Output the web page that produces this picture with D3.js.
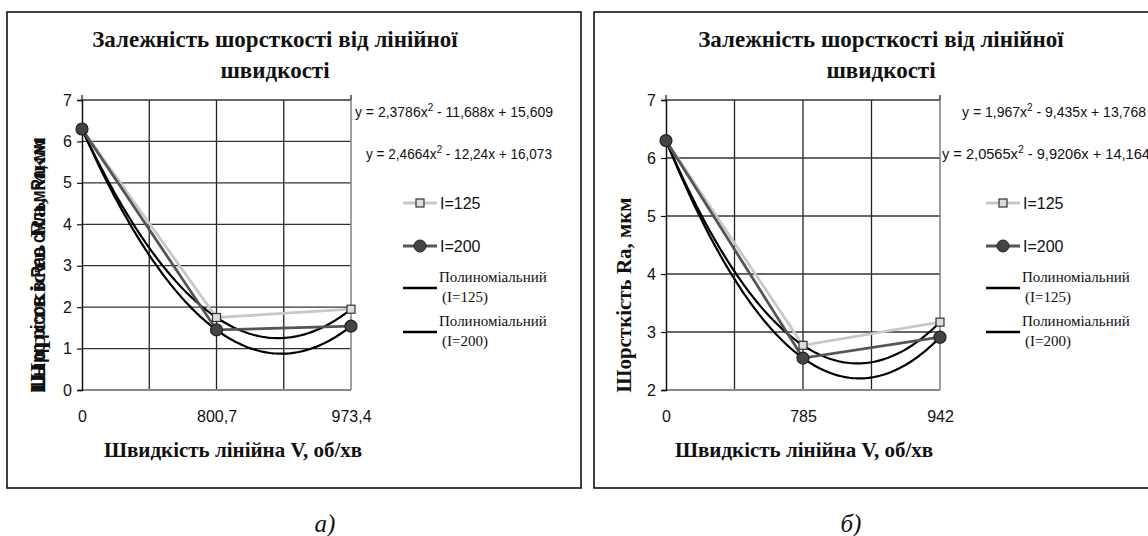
<!DOCTYPE html>
<html>
<head>
<meta charset="utf-8">
<script src="https://cdn.jsdelivr.net/npm/d3@7"></script>
<style>
  body { margin: 0; background: #fff; }
  svg { display: block; }
</style>
</head>
<body>
<script>
var w = 1148,
    h = 536;

// data
var categoriesA = ["0", "800,7", "973,4"];
var categoriesB = ["0", "785", "942"];
var ra125A = [6.3, 1.75, 1.95];
var ra200A = [6.3, 1.45, 1.54];
var ra125B = [6.3, 2.77, 3.17];
var ra200B = [6.3, 2.55, 2.91];
var yTicksA = [0, 1, 2, 3, 4, 5, 6, 7];
var yTicksB = [2, 3, 4, 5, 6, 7];
var equationsA = ["y = 2,3786x", "2", " - 11,688x + 15,609", "y = 2,4664x", "2", " - 12,24x + 16,073"];
var equationsB = ["y = 1,967x", "2", " - 9,435x + 13,768", "y = 2,0565x", "2", " - 9,9206x + 14,164"];
var seriesNames = ["I=125", "I=200"];
var trendNames = ["Полиноміальний", "(I=125)", "Полиноміальний", "(I=200)"];
var titleLines = ["Залежність шорсткості від лінійної", "швидкості"];
var xTitle = "Швидкість лінійна V, об/хв";
var yTitle = "Шорсткість Ra, мкм";
var yTitleGarbled = "Шырр рiсов в Rао смльмRa, мм";
var captions = ["а)", "б)"];

var svg = d3.select("body").append("svg")
    .attr("width", w)
    .attr("height", h);

var serif = "'Times New Roman', 'Liberation Serif', serif";
var sans = "Arial, 'Liberation Sans', sans-serif";

// quadratic least squares fit (Excel polynomial trendline)
function polyfit2(xs, ys) {
  var n = xs.length, s = [0, 0, 0, 0, 0], t = [0, 0, 0];
  for (var i = 0; i < n; i++) {
    for (var k = 0; k < 5; k++) s[k] += Math.pow(xs[i], k);
    for (var k = 0; k < 3; k++) t[k] += ys[i] * Math.pow(xs[i], k);
  }
  var M = [[s[0], s[1], s[2]], [s[1], s[2], s[3]], [s[2], s[3], s[4]]];
  function det(m) {
    return m[0][0] * (m[1][1] * m[2][2] - m[1][2] * m[2][1])
         - m[0][1] * (m[1][0] * m[2][2] - m[1][2] * m[2][0])
         + m[0][2] * (m[1][0] * m[2][1] - m[1][1] * m[2][0]);
  }
  var D = det(M), c = [];
  for (var j = 0; j < 3; j++) {
    var Mj = M.map(function(row, r) { return row.map(function(v, q) { return q == j ? t[r] : v; }); });
    c.push(det(Mj) / D);
  }
  return function(x) { return c[0] + c[1] * x + c[2] * x * x; };
}

function drawPanel(cfg) {
  var g = svg.append("g");

  g.append("rect")
      .attr("x", cfg.box[0]).attr("y", cfg.box[1])
      .attr("width", cfg.box[2]).attr("height", cfg.box[3])
      .attr("fill", "#fff").attr("stroke", "#111").attr("stroke-width", 1.6);

  var idx = cfg.categories.map(function(d, i) { return i + 1; });
  var x = d3.scaleLinear().domain([1, idx.length]).range([cfg.plot[0], cfg.plot[1]]);
  var y = d3.scaleLinear().domain(d3.extent(cfg.yTicks)).range([cfg.plot[3], cfg.plot[2]]);

  // grid
  var xGrid = d3.range(1, idx.length + 0.01, 0.5);
  g.selectAll(".vgrid").data(xGrid.slice(1, -1)).enter().append("line")
      .attr("x1", x).attr("x2", x)
      .attr("y1", y.range()[0]).attr("y2", y.range()[1])
      .attr("stroke", "#222").attr("stroke-width", 1.3);
  g.selectAll(".hgrid").data(cfg.yTicks.slice(1)).enter().append("line")
      .attr("x1", x.range()[0]).attr("x2", x.range()[1])
      .attr("y1", y).attr("y2", y)
      .attr("stroke", "#333").attr("stroke-width", 1.3);
  // plot border right/bottom (gray)
  g.append("line").attr("x1", x.range()[1]).attr("x2", x.range()[1])
      .attr("y1", y.range()[0]).attr("y2", y.range()[1])
      .attr("stroke", "#888").attr("stroke-width", 1.6);
  g.append("line").attr("x1", x.range()[0]).attr("x2", x.range()[1])
      .attr("y1", y.range()[0]).attr("y2", y.range()[0])
      .attr("stroke", "#888").attr("stroke-width", 1.8);
  // small ticks above plot
  [x.range()[0], x.range()[1]].forEach(function(px) {
    g.append("line").attr("x1", px).attr("x2", px)
        .attr("y1", y.range()[1] - 5).attr("y2", y.range()[1])
        .attr("stroke", "#111").attr("stroke-width", 1.2);
  });

  // y axis
  var ya = g.append("g")
      .attr("transform", "translate(" + x.range()[0] + ",0)")
      .call(d3.axisLeft(y).tickValues(cfg.yTicks).tickSize(5).tickPadding(5)
        .tickFormat(d3.format("d")));
  ya.select(".domain").attr("stroke", "#111").attr("stroke-width", 1.5);
  ya.selectAll(".tick line").attr("stroke", "#111").attr("stroke-width", 1.2);
  ya.selectAll("text").attr("font-family", sans)
      .attr("font-size", 16).attr("fill", "#111");

  // x axis labels
  var xa = g.append("g")
      .attr("transform", "translate(0," + y.range()[0] + ")")
      .call(d3.axisBottom(x).tickValues(idx).tickSize(0).tickPadding(21)
        .tickFormat(function(d) { return cfg.categories[d - 1]; }));
  xa.select(".domain").remove();
  xa.selectAll("text").attr("font-family", sans)
      .attr("font-size", 16).attr("fill", "#111");

  // trendlines
  var fine = d3.range(1, idx.length + 0.001, 0.02);
  [cfg.s125, cfg.s200].forEach(function(vals) {
    var f = polyfit2(idx, vals);
    g.append("path")
        .datum(fine)
        .attr("d", d3.line().x(function(d) { return x(d); }).y(function(d) { return y(f(d)); }))
        .attr("fill", "none").attr("stroke", "#000").attr("stroke-width", 2.2);
  });

  // series lines
  var line = d3.line().x(function(d, i) { return x(i + 1); }).y(function(d) { return y(d); });
  g.append("path").datum(cfg.s125).attr("d", line)
      .attr("fill", "none").attr("stroke", "#c8c8c8").attr("stroke-width", 2.8);
  g.append("path").datum(cfg.s200).attr("d", line)
      .attr("fill", "none").attr("stroke", "#555").attr("stroke-width", 2.8);

  g.selectAll(".sq").data(cfg.s125).enter().append("rect")
      .attr("x", function(d, i) { return x(i + 1) - 4; })
      .attr("y", function(d) { return y(d) - 4; })
      .attr("width", 8).attr("height", 8)
      .attr("fill", "#ddd").attr("stroke", "#333").attr("stroke-width", 1.2);
  g.selectAll(".ci").data(cfg.s200).enter().append("circle")
      .attr("cx", function(d, i) { return x(i + 1); })
      .attr("cy", function(d) { return y(d); })
      .attr("r", 6)
      .attr("fill", "#444").attr("stroke", "#222").attr("stroke-width", 1.2);

  // titles
  titleLines.forEach(function(t, i) {
    g.append("text").attr("x", cfg.titleX).attr("y", 47 + i * 31)
        .attr("text-anchor", "middle").attr("font-family", serif)
        .attr("font-weight", "bold").attr("font-size", 23).attr("fill", "#111")
        .text(t);
  });
  g.append("text").attr("x", cfg.xTitleX).attr("y", 457)
      .attr("text-anchor", "middle").attr("font-family", serif)
      .attr("font-weight", "bold").attr("font-size", 21).attr("fill", "#111")
      .text(xTitle);

  // y title
  cfg.yTitles.forEach(function(t) {
    g.append("text")
        .attr("transform", "translate(" + cfg.yTitleX + "," + cfg.yTitleY + ") rotate(-90)")
        .attr("text-anchor", "middle").attr("font-family", t.family)
        .attr("font-weight", "bold").attr("font-size", 20).attr("fill", "#111")
        .attr("textLength", t.len).attr("lengthAdjust", "spacingAndGlyphs")
        .text(t.text);
  });

  // equations
  [0, 1].forEach(function(k) {
    var t = g.append("text").attr("x", cfg.eqX[k]).attr("y", 117 + k * 42)
        .attr("font-family", sans).attr("font-size", 14).attr("fill", "#111")
        .attr("textLength", cfg.eqLen[k]).attr("lengthAdjust", "spacingAndGlyphs");
    t.append("tspan").text(cfg.equations[k * 3]);
    t.append("tspan").attr("dy", -6).attr("font-size", 10).text(cfg.equations[k * 3 + 1]);
    t.append("tspan").attr("dy", 6).text(cfg.equations[k * 3 + 2]);
  });

  // legend
  var lx = cfg.legendX;
  var lg = g.append("g");
  lg.append("line").attr("x1", lx).attr("x2", lx + 34).attr("y1", 203).attr("y2", 203)
      .attr("stroke", "#c8c8c8").attr("stroke-width", 2.8);
  lg.append("rect").attr("x", lx + 13).attr("y", 199).attr("width", 8).attr("height", 8)
      .attr("fill", "#ddd").attr("stroke", "#333").attr("stroke-width", 1.2);
  lg.append("line").attr("x1", lx).attr("x2", lx + 34).attr("y1", 246).attr("y2", 246)
      .attr("stroke", "#555").attr("stroke-width", 2.8);
  lg.append("circle").attr("cx", lx + 17).attr("cy", 246).attr("r", 6)
      .attr("fill", "#444").attr("stroke", "#222");
  seriesNames.forEach(function(s, i) {
    lg.append("text").attr("x", lx + 37).attr("y", 209 + i * 43)
        .attr("font-family", sans).attr("font-size", 16).attr("fill", "#111").text(s);
  });
  [288, 332].forEach(function(yy, i) {
    lg.append("line").attr("x1", lx).attr("x2", lx + 34).attr("y1", yy).attr("y2", yy)
        .attr("stroke", "#000").attr("stroke-width", 2.4);
    lg.append("text").attr("x", lx + 36).attr("y", yy - 6)
        .attr("font-family", serif).attr("font-size", 15).attr("fill", "#111")
        .text(trendNames[i * 2]);
    lg.append("text").attr("x", lx + 39).attr("y", yy + 14)
        .attr("font-family", serif).attr("font-size", 15).attr("fill", "#111")
        .text(trendNames[i * 2 + 1]);
  });

  svg.append("text").attr("x", cfg.captionX).attr("y", 532)
      .attr("text-anchor", "middle").attr("font-family", serif)
      .attr("font-style", "italic").attr("font-size", 25).attr("fill", "#111")
      .text(cfg.caption);
}

drawPanel({
  box: [7, 12, 574, 476],
  plot: [82, 351, 100, 390],
  categories: categoriesA, yTicks: yTicksA,
  s125: ra125A, s200: ra200A,
  equations: equationsA, eqX: [355, 366], eqLen: [198, 186],
  titleX: 275, xTitleX: 233, legendX: 403,
  yTitleX: 45, yTitleY: 265,
  yTitles: [
    { text: yTitle, family: serif, len: 255 },
    { text: yTitleGarbled, family: sans, len: 255 }
  ],
  captionX: 325, caption: captions[0]
});

drawPanel({
  box: [594, 12, 600, 476],
  plot: [666, 940, 100, 390],
  categories: categoriesB, yTicks: yTicksB,
  s125: ra125B, s200: ra200B,
  equations: equationsB, eqX: [962, 942], eqLen: [184, 208],
  titleX: 881, xTitleX: 804, legendX: 986,
  yTitleX: 631, yTitleY: 295,
  yTitles: [
    { text: yTitle, family: serif, len: 195 }
  ],
  captionX: 851, caption: captions[1]
});
</script>
</body>
</html>
